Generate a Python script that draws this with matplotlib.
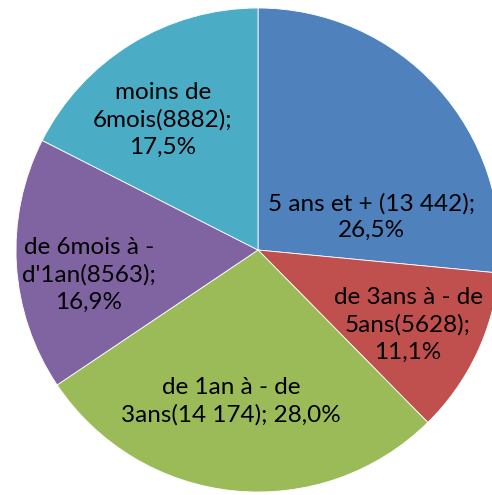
import matplotlib
matplotlib.use("Agg")
import matplotlib.pyplot as plt

# data
categories = ["5 ans et +", "de 3ans à - de 5ans", "de 1an à - de 3ans",
              "de 6mois à - d'1an", "moins de 6mois"]
values = [13442, 5628, 14174, 8563, 8882]
labels = ["5 ans et + (13 442);\n26,5%",
          "de 3ans à - de\n5ans(5628);\n11,1%",
          "de 1an à - de\n3ans(14 174); 28,0%",
          "de 6mois à -\nd'1an(8563);\n16,9%",
          "moins de\n6mois(8882);\n17,5%"]
colors = ["#4F81BD", "#C0504D", "#9BBB59", "#8064A2", "#4BACC6"]

# label anchor points (pixels, from top-left) as placed in the original
label_pos = [(371, 217), (408, 325), (231, 401), (89, 275), (163, 120)]

W, H = 492, 495
fig = plt.figure(figsize=(W / 100, H / 100), dpi=100)
ax = fig.add_axes([0, 0, 1, 1])

ax.pie(values, colors=colors, startangle=90, counterclock=False,
       center=(258, H - 250), radius=242, frame=True,
       wedgeprops=dict(edgecolor="white", linewidth=0.6))
ax.set_xlim(0, W)
ax.set_ylim(0, H)
ax.set_aspect("equal")
ax.axis("off")

for txt, (x, y) in zip(labels, label_pos):
    ax.text(x, H - y, txt, ha="center", va="center", fontsize=17.5,
            family="Lato", linespacing=1.36, color="black")

fig.savefig("out.png", dpi=100)
